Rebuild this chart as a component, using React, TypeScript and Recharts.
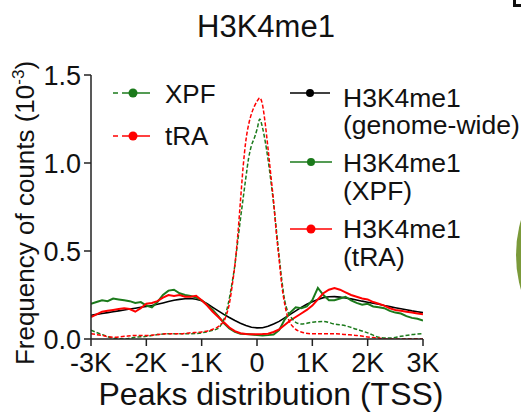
import React from 'react';
import { LineChart, Line, XAxis, YAxis } from 'recharts';

const FONT = '"Liberation Sans", Arial, Helvetica, sans-serif';

// TSS-relative positions (bp) for the H3K4me1 signal profiles
const tssPositions = [
  -3000, -2900, -2800, -2700, -2600, -2500, -2400, -2300, -2200, -2100,
  -2000, -1900, -1800, -1700, -1600, -1500, -1400, -1300, -1200, -1100,
  -1000, -900, -800, -700, -600, -500, -400, -300, -200, -100,
  0, 100, 200, 300, 400, 500, 600, 700, 800, 900,
  1000, 1100, 1200, 1300, 1400, 1500, 1600, 1700, 1800, 1900,
  2000, 2100, 2200, 2300, 2400, 2500, 2600, 2700, 2800, 2900,
  3000,
];

const genomeWide = [
  0.135, 0.14, 0.145, 0.15, 0.155, 0.16, 0.165, 0.17, 0.175, 0.18,
  0.185, 0.19, 0.197, 0.205, 0.213, 0.22, 0.225, 0.229, 0.23, 0.226,
  0.218, 0.2, 0.18, 0.16, 0.14, 0.122, 0.105, 0.09, 0.077, 0.067,
  0.063, 0.064, 0.072, 0.085, 0.1, 0.12, 0.14, 0.16, 0.18, 0.197,
  0.212, 0.225, 0.235, 0.24, 0.241, 0.238, 0.233, 0.228, 0.222, 0.215,
  0.209, 0.203, 0.197, 0.19, 0.184, 0.178, 0.172, 0.166, 0.16, 0.155,
  0.15,
];

const xpfSignal = [
  0.2, 0.21, 0.22, 0.215, 0.23, 0.225, 0.22, 0.215, 0.205, 0.21,
  0.19, 0.18, 0.21, 0.25, 0.275, 0.28, 0.26, 0.25, 0.245, 0.235,
  0.22, 0.195, 0.165, 0.13, 0.09, 0.06, 0.04, 0.03, 0.028, 0.025,
  0.022, 0.02, 0.022, 0.025, 0.05, 0.11, 0.15, 0.18, 0.175, 0.185,
  0.22, 0.29, 0.25, 0.22, 0.22, 0.23, 0.24, 0.22, 0.205, 0.195,
  0.2, 0.185, 0.18, 0.175, 0.16, 0.15, 0.145, 0.13, 0.12, 0.115,
  0.105,
];

const traSignal = [
  0.125, 0.14, 0.155, 0.16, 0.165, 0.17, 0.175, 0.17, 0.155, 0.175,
  0.2, 0.205, 0.215, 0.235, 0.25, 0.245, 0.25, 0.24, 0.24, 0.245,
  0.22, 0.19, 0.155, 0.125, 0.095, 0.065, 0.045, 0.033, 0.028, 0.027,
  0.027, 0.028, 0.03, 0.04, 0.055, 0.08, 0.105, 0.125, 0.145, 0.165,
  0.19, 0.225, 0.26, 0.28, 0.29, 0.28, 0.265, 0.25, 0.24, 0.23,
  0.225, 0.21, 0.2, 0.19, 0.175, 0.165, 0.16, 0.155, 0.15, 0.145,
  0.14,
];

// Peak distribution positions (finer near the TSS)
const peakPositions = [
  -3000, -2800, -2600, -2400, -2200, -2000, -1800, -1600, -1400, -1200, -1000, -800,
  -700, -650, -600, -550, -500, -450, -400, -350, -300, -250, -200, -150, -100, -50,
  0, 50, 100, 150, 200, 250, 300, 350, 400, 450, 500, 550, 600, 650, 700,
  800, 1000, 1200, 1400, 1600, 1800, 2000, 2200, 2400, 2600, 2800, 3000,
];

const xpfPeaks = [
  0.05, 0.025, 0.005, 0.0, 0.01, 0.015, 0.025, 0.03, 0.03, 0.03, 0.035, 0.05,
  0.06, 0.08, 0.11, 0.16, 0.23, 0.32, 0.42, 0.55, 0.68, 0.8, 0.92, 1.03, 1.1, 1.14,
  1.19, 1.25, 1.2, 1.12, 1.02, 0.9, 0.77, 0.62, 0.47, 0.33, 0.22, 0.16, 0.13, 0.11, 0.095,
  0.085, 0.095, 0.1, 0.085, 0.075, 0.055, 0.035, 0.01, 0.005, 0.015, 0.025, 0.03,
];

const traPeaks = [
  0.03, 0.02, 0.01, 0.015, 0.02, 0.02, 0.025, 0.03, 0.03, 0.035, 0.04, 0.055,
  0.07, 0.085, 0.1, 0.14, 0.2, 0.3, 0.42, 0.58, 0.78, 0.98, 1.13, 1.22, 1.28, 1.32,
  1.35, 1.37, 1.33, 1.22, 1.08, 0.93, 0.78, 0.6, 0.45, 0.3, 0.2, 0.13, 0.09, 0.07, 0.055,
  0.04, 0.03, 0.03, 0.03, 0.025, 0.02, 0.012, 0.005, 0.0, 0.0, 0.002, 0.0,
];

const xTicks = [-3000, -2000, -1000, 0, 1000, 2000, 3000];
const xTickLabels = ['-3K', '-2K', '-1K', '0', '1K', '2K', '3K'];
const yTicks = [0, 0.5, 1.0, 1.5];

const GREEN = '#1b7a1b';
const RED = '#ff0000';

const toPoints = (xs: number[], ys: number[]) => xs.map((x, i) => ({ x, y: ys[i] }));

const genomeData = toPoints(tssPositions, genomeWide);
const xpfData = toPoints(tssPositions, xpfSignal);
const traData = toPoints(tssPositions, traSignal);
const xpfPeakData = toPoints(peakPositions, xpfPeaks);
const traPeakData = toPoints(peakPositions, traPeaks);

export default function App() {
  const tickStyle = { fill: '#111', fontSize: 27, fontFamily: FONT };
  return (
    <div style={{ position: 'absolute', left: 0, top: 0, width: 521, height: 414, background: '#fff', fontFamily: FONT }}>
      <LineChart width={521} height={414} margin={{ top: 75, right: 98, bottom: 35, left: 31 }}>
        <XAxis
          type="number"
          dataKey="x"
          domain={[-3000, 3000]}
          ticks={xTicks}
          interval={0}
          tickFormatter={(v: number) => xTickLabels[xTicks.indexOf(v)]}
          stroke="#222"
          strokeWidth={1.5}
          tickSize={7}
          tickMargin={7}
          height={40}
          tick={tickStyle}
          allowDataOverflow
        />
        <YAxis
          type="number"
          domain={[0, 1.5]}
          ticks={yTicks}
          interval={0}
          tickFormatter={(v: number) => v.toFixed(1)}
          stroke="#222"
          strokeWidth={1.5}
          tickSize={7}
          tickMargin={3}
          width={60}
          tick={tickStyle}
          allowDataOverflow
        />
        <Line data={genomeData} dataKey="y" type="linear" stroke="#000" strokeWidth={1.6} dot={false} isAnimationActive={false} />
        <Line data={xpfData} dataKey="y" type="linear" stroke={GREEN} strokeWidth={2} dot={false} isAnimationActive={false} />
        <Line data={traData} dataKey="y" type="linear" stroke={RED} strokeWidth={2} dot={false} isAnimationActive={false} />
        <Line data={xpfPeakData} dataKey="y" type="monotone" stroke={GREEN} strokeWidth={1.5} strokeDasharray="4 2" dot={false} isAnimationActive={false} />
        <Line data={traPeakData} dataKey="y" type="monotone" stroke={RED} strokeWidth={1.5} strokeDasharray="4 2" dot={false} isAnimationActive={false} />
      </LineChart>
      <svg
        width={521}
        height={414}
        style={{ position: 'absolute', left: 0, top: 0, pointerEvents: 'none' }}
        fontFamily={FONT}
      >
        {/* title */}
        <text x={266} y={37} textAnchor="middle" fontSize={31} fill="#111">H3K4me1</text>
        {/* x label */}
        <text x={271} y={405} textAnchor="middle" fontSize={32} fill="#111">Peaks distribution (TSS)</text>
        {/* y label */}
        <text transform="translate(34,213) rotate(-90)" textAnchor="middle" fontSize={26} fill="#111">
          Frequency of counts (10
          <tspan dy={-10} fontSize={17}>-3</tspan>
          <tspan dy={10}>)</tspan>
        </text>

        {/* left legend: peaks */}
        <g>
          <line x1={113} x2={118} y1={93} y2={93} stroke={GREEN} strokeWidth={1.5} />
          <line x1={122} x2={150} y1={93} y2={93} stroke={GREEN} strokeWidth={1.5} />
          <circle cx={133} cy={93} r={4.5} fill={GREEN} />
          <text x={165} y={103} fontSize={26} fill="#111">XPF</text>
          <line x1={113} x2={118} y1={136} y2={136} stroke={RED} strokeWidth={1.5} />
          <line x1={122} x2={150} y1={136} y2={136} stroke={RED} strokeWidth={1.5} />
          <circle cx={133} cy={136} r={4.5} fill={RED} />
          <text x={165} y={145} fontSize={26} fill="#111">tRA</text>
        </g>

        {/* right legend: H3K4me1 signals */}
        <g>
          <line x1={290} x2={330} y1={93} y2={93} stroke="#000" strokeWidth={1.5} />
          <circle cx={310} cy={93} r={4} fill="#000" />
          <text x={343} y={107} fontSize={26.5} fill="#111">H3K4me1</text>
          <text x={343} y={134} fontSize={26.5} fill="#111">(genome-wide)</text>

          <line x1={290} x2={332} y1={162} y2={162} stroke={GREEN} strokeWidth={1.5} />
          <circle cx={311} cy={162} r={4} fill={GREEN} />
          <text x={343} y={172} fontSize={26.5} fill="#111">H3K4me1</text>
          <text x={343} y={200} fontSize={26.5} fill="#111">(XPF)</text>

          <line x1={290} x2={332} y1={229} y2={229} stroke={RED} strokeWidth={1.5} />
          <circle cx={311} cy={229} r={4.5} fill={RED} />
          <text x={343} y={238} fontSize={26.5} fill="#111">H3K4me1</text>
          <text x={343} y={266} fontSize={26.5} fill="#111">(tRA)</text>
        </g>

        {/* neighbouring panel fragments */}
        <rect x={513} y={0} width={3} height={7} fill="#111" />
        <rect x={513} y={4} width={8} height={3} fill="#111" />
        <ellipse cx={556} cy={255} rx={40} ry={72} fill="#7b9a3a" />
      </svg>
    </div>
  );
}
